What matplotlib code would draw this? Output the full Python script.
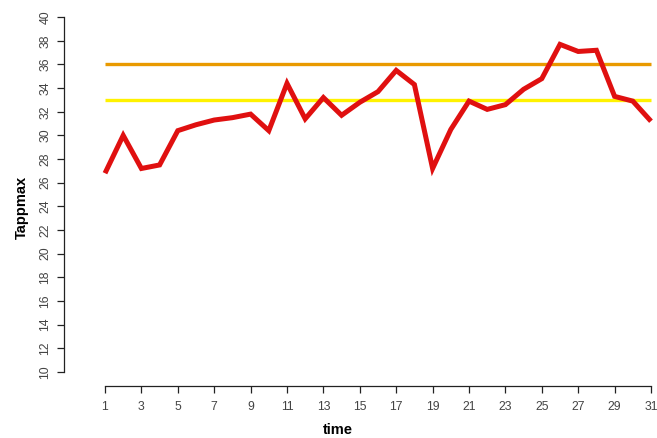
import matplotlib.pyplot as plt
import numpy as np

plt.rcParams['font.family'] = ['Liberation Sans', 'DejaVu Sans']

# daily values
time = list(range(1, 32))
tappmax = [26.8, 30.0, 27.2, 27.5, 30.4, 30.9, 31.3, 31.5, 31.8, 30.4,
           34.4, 31.4, 33.2, 31.7, 32.8, 33.7, 35.5, 34.3, 27.2, 30.5,
           32.9, 32.2, 32.6, 33.9, 34.8, 37.7, 37.1, 37.2, 33.3, 32.9,
           31.2]
upper_limit = 36
lower_limit = 33

x_ticks = list(range(1, 32, 2))
y_ticks = list(range(10, 41, 2))

fig = plt.figure(figsize=(6.57, 4.38), dpi=100)
ax = fig.add_axes([64 / 657, 1 - 386 / 438, 593 / 657, 383 / 438])

ax.plot([time[0], time[-1]], [upper_limit, upper_limit], color='#E99A00', lw=2.4,
        solid_capstyle='butt', clip_on=False)
ax.plot([time[0], time[-1]], [lower_limit, lower_limit], color='#FFF200', lw=2.4,
        solid_capstyle='butt', clip_on=False)
ax.plot(time, tappmax, color='#E01010', lw=3.6, solid_joinstyle='miter',
        solid_capstyle='butt', clip_on=False)

ax.set_xlim(1 - 41 / 18.2, 31 + 6 / 18.2)
ax.set_ylim(8.8, 41.2)

for s in ['top', 'right']:
    ax.spines[s].set_visible(False)
ax.spines['left'].set_bounds(10, 40)
ax.spines['bottom'].set_bounds(1, 31)
for s in ['left', 'bottom']:
    ax.spines[s].set_linewidth(0.9)
    ax.spines[s].set_color('#222222')

ax.set_xticks(x_ticks)
ax.set_yticks(y_ticks)
ax.set_yticklabels([str(v) for v in y_ticks], rotation=90, va='center')
ax.tick_params(axis='both', length=5, width=0.9, color='#222222',
               labelsize=8.8, labelcolor='#444444')
ax.tick_params(axis='x', pad=6)
ax.tick_params(axis='y', pad=4)

fig.text(338 / 657, 1 - 430 / 438, 'time', ha='center', va='center',
         fontsize=10.5, fontweight='bold')
fig.text(22 / 657, 1 - 207 / 438, 'Tappmax', ha='center', va='center',
         rotation=90, fontsize=10.5, fontweight='bold')

fig.savefig('out.png', dpi=100)
